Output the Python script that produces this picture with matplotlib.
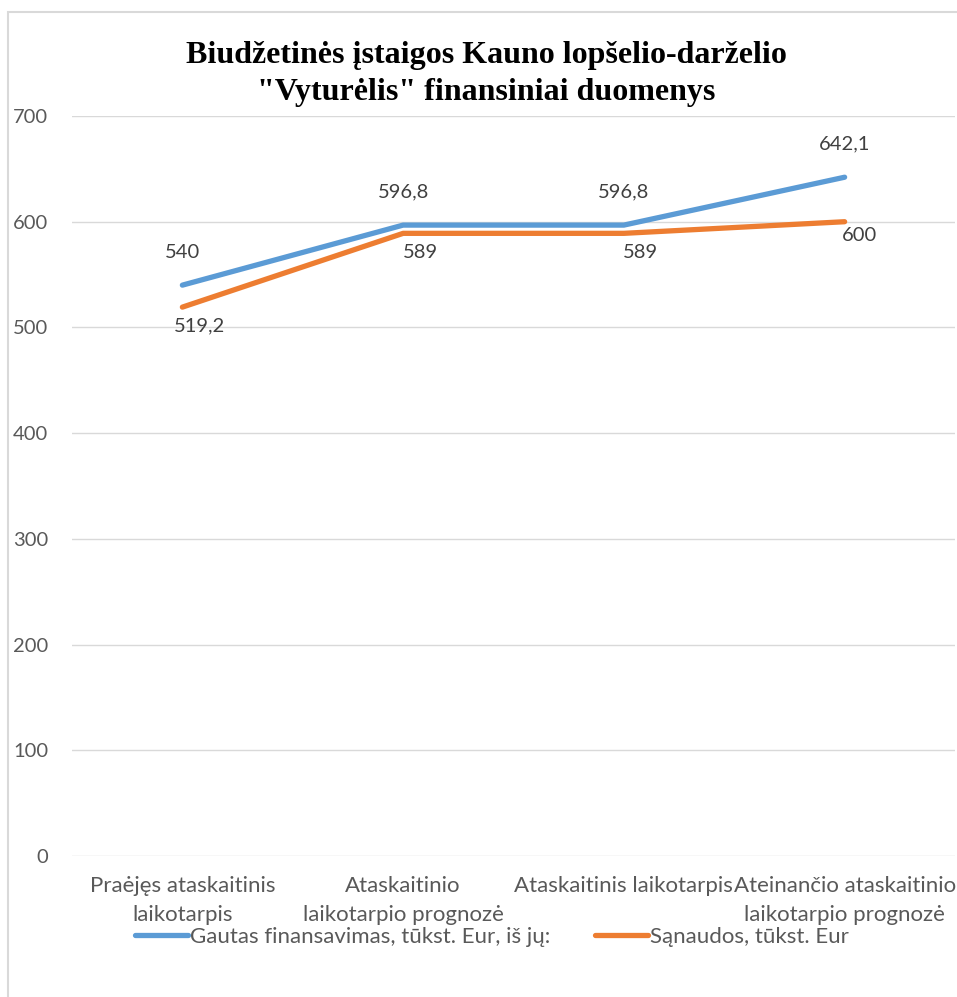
import matplotlib
matplotlib.use('Agg')
import matplotlib.pyplot as plt
from matplotlib.patches import Rectangle

# Données du graphique
kategorijos = ['Praėjęs ataskaitinis\nlaikotarpis', 'Ataskaitinio\nlaikotarpio prognozė',
               'Ataskaitinis laikotarpis', 'Ateinančio ataskaitinio\nlaikotarpio prognozė']
finansavimas = [540, 596.8, 596.8, 642.1]
sanaudos = [519.2, 589, 589, 600]
finansavimas_zymes = ['540', '596,8', '596,8', '642,1']
sanaudos_zymes = ['519,2', '589', '589', '600']
pavadinimas = 'Biudžetinės įstaigos Kauno lopšelio-darželio\n"Vyturėlis" finansiniai duomenys'

W, H = 957, 997
fig = plt.figure(figsize=(W / 100, H / 100), dpi=100)
plt.rcParams['font.family'] = ['Lato', 'DejaVu Sans']

# Cadre gris clair autour du graphique
fig.patches.append(Rectangle((8 / W, -0.1), 1.2, (997 - 12) / H + 0.1, transform=fig.transFigure,
                             fill=False, edgecolor='#D9D9D9', linewidth=1.5))

ax = fig.add_axes([72 / W, (H - 856) / H, (955 - 72) / W, (856 - 116) / H])
x = list(range(len(kategorijos)))
ax.plot(x, finansavimas, color='#5B9BD5', linewidth=3.8, solid_capstyle='round',
        label='Gautas finansavimas, tūkst. Eur, iš jų:', zorder=3)
ax.plot(x, sanaudos, color='#ED7D31', linewidth=3.8, solid_capstyle='round',
        label='Sąnaudos, tūkst. Eur', zorder=3)

ax.set_xlim(-0.5, 3.5)
ax.set_ylim(0, 700)
ax.set_yticks(range(0, 701, 100))
ax.grid(axis='y', color='#D9D9D9', linewidth=1)
ax.set_axisbelow(True)
for s in ax.spines.values():
    s.set_visible(False)
ax.tick_params(axis='both', length=0, colors='#595959')
ax.tick_params(axis='y', pad=17, labelsize=14.5)
ax.tick_params(axis='x', pad=14.5, labelsize=16)
ax.set_xticks(x)
ax.set_xticklabels(kategorijos, linespacing=1.55)

# Étiquettes des valeurs
for i in x:
    ax.annotate(finansavimas_zymes[i], (i, finansavimas[i]), xytext=(0, 33), textcoords='offset pixels',
                ha='center', va='center', fontsize=14.5, color='#404040')
    dx = 15 if i == 3 else 17
    dy = -14 if i == 3 else -19
    ax.annotate(sanaudos_zymes[i], (i, sanaudos[i]), xytext=(dx, dy), textcoords='offset pixels',
                ha='center', va='center', fontsize=14.5, color='#404040')

fig.text(486 / W, 1 - 74 / H, pavadinimas, ha='center', va='center', fontsize=23, fontweight='bold',
         family='Liberation Serif', color='black', linespacing=1.35)

leg = fig.legend(loc='center', bbox_to_anchor=(492 / W, 1 - 937 / H), ncol=2, frameon=False,
                 fontsize=16, handlelength=2.4, handletextpad=0.1, columnspacing=2.0)
for t in leg.get_texts():
    t.set_color('#595959')

fig.savefig('out.png', dpi=100)
